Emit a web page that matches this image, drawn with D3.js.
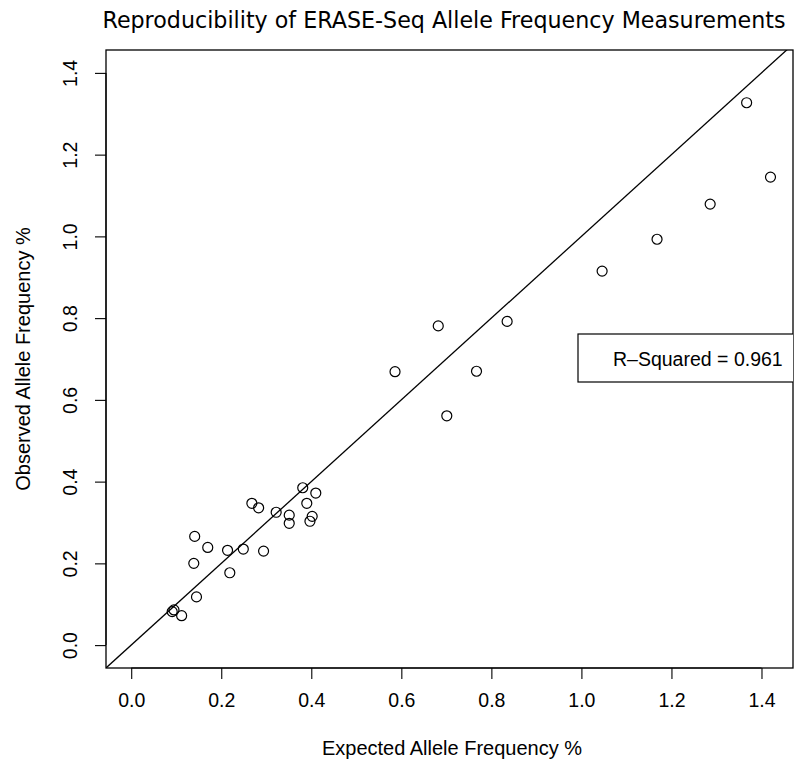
<!DOCTYPE html>
<html>
<head>
<meta charset="utf-8">
<script src="https://cdn.jsdelivr.net/npm/d3@7"></script>
<style>
  body { margin: 0; background: #fff; }
  svg text { font-family: "Liberation Sans", Arial, sans-serif; fill: #000; }
  .title { font-family: "DejaVu Sans", sans-serif; font-size: 22.2px; }
</style>
</head>
<body>
<svg id="chart"></svg>
<script>
// values
var expected = [0.091, 0.095, 0.112, 0.139, 0.141, 0.145, 0.170, 0.214, 0.219, 0.249,
                0.268, 0.283, 0.294, 0.322, 0.351, 0.351, 0.381, 0.390, 0.397, 0.402,
                0.410, 0.586, 0.682, 0.701, 0.767, 0.835, 1.046, 1.168, 1.286, 1.367, 1.420]
var observed = [0.082, 0.086, 0.072, 0.200, 0.266, 0.118, 0.239, 0.232, 0.177, 0.235,
                0.347, 0.336, 0.230, 0.325, 0.318, 0.298, 0.385, 0.347, 0.303, 0.315,
                0.372, 0.669, 0.781, 0.561, 0.670, 0.792, 0.915, 0.993, 1.079, 1.327, 1.145]
var xTicks = [0, 0.2, 0.4, 0.6, 0.8, 1.0, 1.2, 1.4]
var yTicks = [0, 0.2, 0.4, 0.6, 0.8, 1.0, 1.2, 1.4]
var rSquared = "0.961"

var screen = {width: 794, height: 763}
var box = {left: 106, right: 793, top: 50, bottom: 668}

var svg = d3.select("#chart")
    .attr("width", screen.width)
    .attr("height", screen.height)

var xScale = d3.scaleLinear()
    .domain([-0.056, 1.47])
    .range([box.left, box.right])

var yScale = d3.scaleLinear()
    .domain([-0.056, 1.456])
    .range([box.bottom, box.top])

svg.append("clipPath")
    .attr("id", "plotclip")
    .append("rect")
    .attr("x", box.left)
    .attr("y", box.top)
    .attr("width", box.right - box.left)
    .attr("height", box.bottom - box.top)

// axes
var xAxis = d3.axisBottom(xScale)
    .tickValues(xTicks)
    .tickFormat(d3.format(".1f"))
    .tickSize(11)
    .tickPadding(14)

var gx = svg.append("g")
    .attr("transform", "translate(0," + box.bottom + ")")
    .call(xAxis)
gx.selectAll("text").style("font-size", "19.5px")
gx.select(".domain")
    .attr("d", "M" + xScale(xTicks[0]) + ",0H" + xScale(xTicks[xTicks.length - 1]))
gx.selectAll("line, path").attr("stroke", "#000").attr("stroke-width", 1.1)

var yAxis = d3.axisLeft(yScale)
    .tickValues(yTicks)
    .tickFormat(d3.format(".1f"))
    .tickSize(11)

var gy = svg.append("g")
    .attr("transform", "translate(" + box.left + ",0)")
    .call(yAxis)
gy.select(".domain")
    .attr("d", "M0," + yScale(yTicks[0]) + "V" + yScale(yTicks[yTicks.length - 1]))
gy.selectAll("line, path").attr("stroke", "#000").attr("stroke-width", 1.1)
gy.selectAll(".tick text")
    .attr("x", null)
    .attr("dy", null)
    .attr("text-anchor", "middle")
    .attr("transform", "translate(-29,0) rotate(-90)")
    .style("font-size", "19.5px")

// plot frame
svg.append("rect")
    .attr("x", box.left)
    .attr("y", box.top)
    .attr("width", box.right - box.left)
    .attr("height", box.bottom - box.top)
    .attr("fill", "none")
    .attr("stroke", "#000")
    .attr("stroke-width", 1.3)

var plot = svg.append("g").attr("clip-path", "url(#plotclip)")

// y = x reference line
plot.append("line")
    .attr("x1", xScale(-0.1))
    .attr("y1", yScale(-0.1))
    .attr("x2", xScale(1.6))
    .attr("y2", yScale(1.6))
    .attr("stroke", "#000")
    .attr("stroke-width", 1.3)

plot.selectAll("circle")
    .data(expected)
    .enter()
    .append("circle")
    .attr("cx", function (d) { return xScale(d) })
    .attr("cy", function (d, i) { return yScale(observed[i]) })
    .attr("r", 5)
    .attr("fill", "none")
    .attr("stroke", "#000")
    .attr("stroke-width", 1.2)

// r-squared box
var leg = plot.append("g")
leg.append("rect")
    .attr("x", 578)
    .attr("y", 334)
    .attr("width", 230)
    .attr("height", 48)
    .attr("fill", "#fff")
    .attr("stroke", "#000")
    .attr("stroke-width", 1.2)
leg.append("text")
    .attr("x", 613)
    .attr("y", 366)
    .style("font-size", "19.5px")
    .text("R\u2013Squared = " + rSquared)

// labels
svg.append("text")
    .classed("title", true)
    .attr("x", 444)
    .attr("y", 28)
    .attr("text-anchor", "middle")
    .text("Reproducibility of ERASE-Seq Allele Frequency Measurements")

svg.append("text")
    .attr("x", 452)
    .attr("y", 755)
    .attr("text-anchor", "middle")
    .style("font-size", "20px")
    .text("Expected Allele Frequency %")

svg.append("g")
    .attr("transform", "translate(30," + ((box.top + box.bottom) / 2) + ")")
    .append("text")
    .attr("text-anchor", "middle")
    .attr("transform", "rotate(-90)")
    .style("font-size", "20px")
    .text("Observed Allele Frequency %")
</script>
</body>
</html>
